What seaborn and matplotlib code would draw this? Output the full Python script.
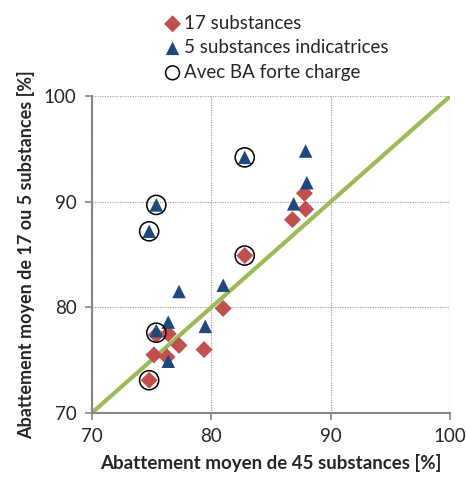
import matplotlib
matplotlib.use('Agg')
import matplotlib.pyplot as plt
import seaborn as sns
import pandas as pd

# values
x17 = [87.8, 87.9, 86.8, 82.8, 81.0, 75.4, 76.4, 77.3, 79.4, 75.2, 76.3, 74.8]
y17 = [90.8, 89.3, 88.3, 84.9, 79.9, 77.4, 77.5, 76.4, 76.0, 75.5, 75.3, 73.1]

x5 = [75.4, 74.8, 82.8, 87.9, 88.0, 86.9, 77.3, 81.0, 75.4, 76.4, 79.5, 76.4]
y5 = [89.7, 87.2, 94.2, 94.8, 91.8, 89.8, 81.5, 82.1, 77.8, 78.6, 78.2, 74.9]

# points with high-load BA (circled)
x_ba = [75.4, 74.8, 82.8, 82.8, 75.4, 74.8]
y_ba = [89.7, 87.2, 94.2, 84.9, 77.6, 73.1]

diag = [70, 100]
ticks = [70, 80, 90, 100]

sns.set_style('white')
plt.rcParams['font.family'] = ['Lato', 'DejaVu Sans']

df17 = pd.DataFrame({'x': x17, 'y': y17})
df5 = pd.DataFrame({'x': x5, 'y': y5})
dfba = pd.DataFrame({'x': x_ba, 'y': y_ba})
dfd = pd.DataFrame({'x': diag, 'y': diag})

fig = plt.figure(figsize=(4.66, 4.83), dpi=100)
ax = fig.add_axes([0.197, 0.145, 0.769, 0.656])

sns.lineplot(data=dfd, x='x', y='y', color='#9BBB59', linewidth=3, ax=ax, zorder=2)
sns.scatterplot(data=df17, x='x', y='y', marker='D', color='#C0504D', s=75,
                edgecolor='none', ax=ax, zorder=3, label='17 substances')
sns.scatterplot(data=df5, x='x', y='y', marker='^', color='#1F497D', s=95,
                edgecolor='none', ax=ax, zorder=4, label='5 substances indicatrices')
sns.scatterplot(data=dfba, x='x', y='y', marker='o', facecolor='none', edgecolor='black',
                linewidth=1.1, s=190, ax=ax, zorder=5, label='Avec BA forte charge')

ax.set_xlim(70, 100)
ax.set_ylim(70, 100)
ax.set_xticks(ticks)
ax.set_yticks(ticks)
ax.grid(True, color='#A6A6A6', linestyle=(0, (1, 1)), linewidth=0.9)
for s in ['top', 'right']:
    ax.spines[s].set_visible(False)
for s in ['left', 'bottom']:
    ax.spines[s].set_color('#868686')
    ax.spines[s].set_linewidth(1.5)
ax.tick_params(axis='both', labelsize=13.5, length=5, color='#868686', width=1.2,
               direction='out', left=True, bottom=True, pad=6)

ax.set_xlabel('Abattement moyen de 45 substances [%]', fontsize=13.5,
              fontweight='bold', labelpad=6)
ax.set_ylabel('Abattement moyen de 17 ou 5 substances [%]', fontsize=13,
              fontweight='bold', labelpad=6)

handles, labels = ax.get_legend_handles_labels()
ax.legend_.remove()
leg = fig.legend(handles, labels, loc='upper left', bbox_to_anchor=(0.33, 0.985),
                 frameon=False, fontsize=13.5, handletextpad=0.0, labelspacing=0.4,
                 borderaxespad=0, handlelength=1.2)
leg.legend_handles[2].set_sizes([100])

plt.savefig('out.png', dpi=100)
